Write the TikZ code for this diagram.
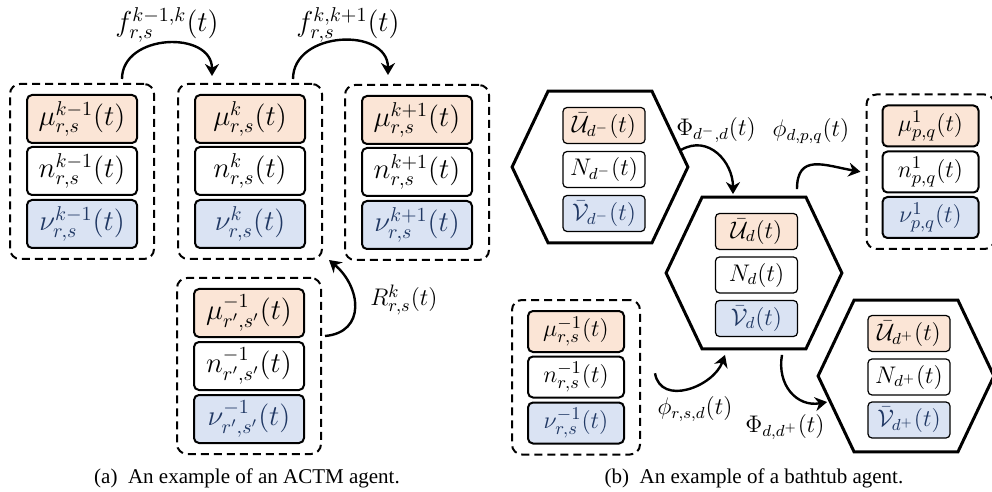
\documentclass[tikz,border=0pt]{standalone}
\usepackage{amsmath}
\usepackage[no-math]{fontspec}
\newfontfamily\capfont{Liberation Serif}
\usepackage{xcolor}
\definecolor{cellorange}{RGB}{251,229,214}
\definecolor{cellblue}{RGB}{218,227,243}
\definecolor{cellnavy}{RGB}{32,56,100}
\usepackage{tikz}
\usetikzlibrary{arrows.meta, calc, fit}

\tikzset{
  cell/.style={draw, line width=1pt, rounded corners=2.5pt, inner sep=0pt,
               minimum width=55pt, minimum height=24pt,
               font=\fontsize{14.5}{16}\selectfont},
  hexcell/.style={draw, line width=0.6pt, rounded corners=2pt, inner sep=0pt,
               minimum width=41pt, minimum height=18pt,
               font=\fontsize{12}{13}\selectfont},
  sidecell/.style={draw, line width=1pt, rounded corners=2.5pt, inner sep=0pt,
               minimum width=48pt, minimum height=20.5pt,
               font=\fontsize{12.5}{14}\selectfont},
  orange/.style={fill=cellorange},
  blue/.style={fill=cellblue, text=cellnavy},
  group/.style={draw, dashed, dash pattern=on 4pt off 2.5pt, line width=1pt,
               rounded corners=5pt, inner ysep=5pt},
  hexnode/.style={inner sep=0pt, minimum width=87.5pt, minimum height=75.5pt},
  hexline/.style={line width=1.5pt, line join=miter},
  flow/.style={-{Stealth[length=6pt, width=7pt]}, line width=1.2pt},
  biglbl/.style={font=\fontsize{14}{16}\selectfont},
  lbl/.style={font=\fontsize{12}{14}\selectfont},
  caption/.style={font=\capfont\fontsize{10.5}{13}\selectfont},
}

\begin{document}
\begin{tikzpicture}[x=0.5pt, y=0.5pt]
\useasboundingbox (0,0) rectangle (992,-492);

% ===== ACTM AGENT (left) =====
% cell k-1
\node[cell, orange] (muKm) at (82,-119) {$\mu^{k-1}_{r,s}(t)$};
\node[cell]         (nKm)  at (82,-171) {$n^{k-1}_{r,s}(t)$};
\node[cell, blue]   (nuKm) at (82,-224) {$\nu^{k-1}_{r,s}(t)$};
\node[group, inner xsep=8pt, fit=(muKm)(nuKm)] (grpKm) {};

% cell k
\node[cell, orange] (muK) at (250,-119) {$\mu^{k}_{r,s}(t)$};
\node[cell]         (nK)  at (250,-171) {$n^{k}_{r,s}(t)$};
\node[cell, blue]   (nuK) at (250,-224) {$\nu^{k}_{r,s}(t)$};
\node[group, inner xsep=8pt, fit=(muK)(nuK)] (grpK) {};

% cell k+1
\node[cell, orange] (muKp) at (417,-120) {$\mu^{k+1}_{r,s}(t)$};
\node[cell]         (nKp)  at (417,-172) {$n^{k+1}_{r,s}(t)$};
\node[cell, blue]   (nuKp) at (417,-225) {$\nu^{k+1}_{r,s}(t)$};
\node[group, inner xsep=8pt, fit=(muKp)(nuKp)] (grpKp) {};

% on-ramp cell
\node[cell, orange] (muRp) at (249,-313) {$\mu^{-1}_{r',s'}(t)$};
\node[cell]         (nRp)  at (249,-366) {$n^{-1}_{r',s'}(t)$};
\node[cell, blue]   (nuRp) at (249,-419) {$\nu^{-1}_{r',s'}(t)$};
\node[group, inner xsep=8pt, fit=(muRp)(nuRp)] (grpRp) {};

% flows between cells
\draw[flow] ($(grpKm.north)+(40,4)$) to[out=90, in=90, looseness=1.3] ($(grpK.north)+(-38,7)$);
\node[biglbl] (fKm) at (167,-25) {$f^{k-1,k}_{r,s}(t)$};
\draw[flow] ($(grpK.north)+(43,4)$) to[out=90, in=90, looseness=1.3] ($(grpKp.north)+(-29,9)$);
\node[biglbl] (fKp) at (348,-25) {$f^{k,k+1}_{r,s}(t)$};
\draw[flow] ($(grpRp.east)+(3,30)$) to[out=5, in=-40, looseness=1.4] ($(grpK.south east)+(6,0)$);
\node[biglbl, font=\fontsize{13}{15}\selectfont] (rK) at (404,-300) {$R^{k}_{r,s}(t)$};

\node[caption] (capA) at (247,-478) {(a)\enspace An example of an ACTM agent.};

% ===== BATHTUB AGENT (right) =====
\node[hexnode] (hexDm) at (600,-167) {};
\node[hexnode] (hexD)  at (754,-273) {};
\node[hexnode] (hexDp) at (906,-376) {};
\foreach \h in {hexDm, hexD, hexDp}
  \draw[hexline] (\h.west) -- ($(\h.north west)+(36,0)$) -- ($(\h.north east)+(-36,0)$)
    -- (\h.east) -- ($(\h.south east)+(-36,0)$) -- ($(\h.south west)+(36,0)$) -- cycle;

% upstream region
\node[hexcell, orange] (uDm) at (604,-125.5) {$\bar{\mathcal{U}}_{d^-}(t)$};
\node[hexcell]         (nDm) at (604,-169.5) {$N_{d^-}(t)$};
\node[hexcell, blue]   (vDm) at (604,-213.5) {$\bar{\mathcal{V}}_{d^-}(t)$};

% region d
\node[hexcell, orange] (uD) at (756.5,-231.5) {$\bar{\mathcal{U}}_{d}(t)$};
\node[hexcell]         (nD) at (756.5,-275) {$N_{d}(t)$};
\node[hexcell, blue]   (vD) at (756.5,-318.5) {$\bar{\mathcal{V}}_{d}(t)$};

% downstream region
\node[hexcell, orange] (uDp) at (909,-333.5) {$\bar{\mathcal{U}}_{d^+}(t)$};
\node[hexcell]         (nDp) at (909,-377) {$N_{d^+}(t)$};
\node[hexcell, blue]   (vDp) at (909,-420) {$\bar{\mathcal{V}}_{d^+}(t)$};

% exit cell
\node[sidecell, orange] (muPQ) at (930.5,-126) {$\mu^{1}_{p,q}(t)$};
\node[sidecell]         (nPQ)  at (930.5,-172) {$n^{1}_{p,q}(t)$};
\node[sidecell, blue]   (nuPQ) at (930.5,-217.5) {$\nu^{1}_{p,q}(t)$};
\node[group, inner xsep=7.5pt, fit=(muPQ)(nuPQ)] (grpPQ) {};

% entry cell
\node[sidecell, orange] (muRS) at (576,-331.5) {$\mu^{-1}_{r,s}(t)$};
\node[sidecell]         (nRS)  at (576,-377) {$n^{-1}_{r,s}(t)$};
\node[sidecell, blue]   (nuRS) at (576,-423) {$\nu^{-1}_{r,s}(t)$};
\node[group, inner xsep=7.5pt, fit=(muRS)(nuRS)] (grpRS) {};

% flows between regions
\draw[flow] ($(hexDm.east)+(-7,17)$) to[out=30, in=90, looseness=1.2] ($(hexD.north)+(-21,3)$);
\node[lbl] (phiDm) at (716,-130) {$\Phi_{d^-,d}(t)$};
\draw[flow] ($(hexD.north)+(43,8)$) to[out=90, in=170, looseness=1.4] ($(grpPQ.west)+(-5,0)$);
\node[lbl] (phiPQ) at (811,-131) {$\phi_{d,p,q}(t)$};
\draw[flow] ($(grpRS.east)+(14,4)$) to[out=-80, in=-110, looseness=1.2] ($(hexD.south)+(-29,-6)$);
\node[lbl] (phiRS) at (695,-409) {$\phi_{r,s,d}(t)$};
\draw[flow] ($(hexD.south)+(28,-6)$) to[out=-100, in=190, looseness=1.2] ($(hexDp.west)+(9,-26)$);
\node[lbl] (phiDp) at (785,-427) {$\Phi_{d,d^+}(t)$};

\node[caption] (capB) at (754,-478) {(b)\enspace An example of a bathtub agent.};

\end{tikzpicture}
\end{document}
